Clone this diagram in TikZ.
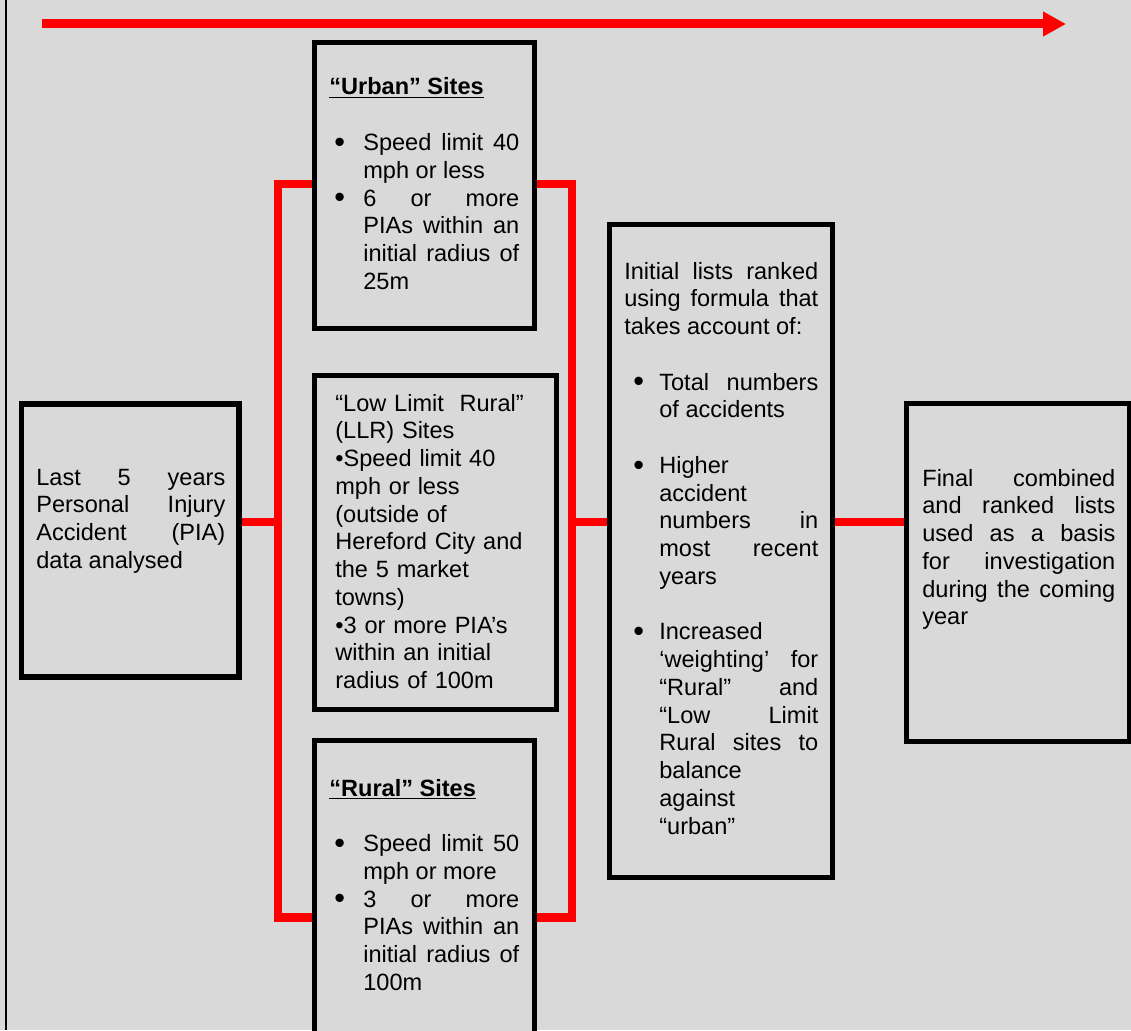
\documentclass[tikz,border=0pt]{standalone}
\usepackage{fontspec}
\usepackage{graphicx}
\setmainfont{Liberation Sans}
\usetikzlibrary{arrows.meta}
\definecolor{panelgrey}{HTML}{D9D9D9}
\definecolor{linkred}{HTML}{FF0000}
\newcommand{\siteitem}[3]{\par\hangindent=#2\hangafter=1\noindent
  \makebox[#2][l]{\hspace{#1}\raisebox{-0.08em}{\scalebox{1.3}{\textbullet}}}#3\par}
\tikzset{
  sitebox/.style={draw=black, line width=0.11cm, fill=panelgrey, inner sep=0pt},
  sitetext/.style={anchor=base west, inner sep=0pt, align=justify,
    font=\fontsize{13.4pt}{15.8pt}\selectfont},
  link/.style={draw=linkred, line width=0.17cm, line join=miter},
}
\begin{document}
\begin{tikzpicture}[x=0.02cm, y=-0.02cm]
  \useasboundingbox (0,0) rectangle (1131,1030);
  \clip (0,0) rectangle (1131,1030);
  \fill[panelgrey] (0,0) rectangle (1131,1030);
  \draw[line width=0.04cm] (6,0) -- (6,1030);
  \coordinate (trendstart) at (42,24);
  \coordinate (trendend) at (1066,24);
  \draw[linkred, line width=0.18cm, -{Triangle[length=0.46cm, width=0.47cm]}] (trendstart) -- (trendend);

  \node[sitebox, minimum width=4.35cm, minimum height=5.46cm] (last) at (130.25,540.5) {};
  \node[sitebox, minimum width=4.4cm, minimum height=5.72cm] (urban) at (424.5,185.5) {};
  \node[sitebox, minimum width=4.84cm, minimum height=6.68cm] (llr) at (435.5,542.5) {};
  \node[sitebox, minimum width=4.4cm, minimum height=6.39cm] (rural) at (424.5,900.25) {};
  \node[sitebox, minimum width=4.46cm, minimum height=13.06cm] (ranking) at (721,551) {};
  \node[sitebox, minimum width=4.46cm, minimum height=6.76cm] (final) at (1018,572.5) {};

  \coordinate (topy) at (0,184);
  \coordinate (midy) at (0,522);
  \coordinate (boty) at (0,917.5);
  \coordinate (leftbus) at (278,522);
  \coordinate (rightbus) at (572,522);
  \draw[link] (urban.west |- topy) -| (leftbus |- boty) -- (rural.west |- boty);
  \draw[link] (urban.east |- topy) -| (rightbus |- boty) -- (rural.east |- boty);
  \draw[link] (last.east |- midy) -- (leftbus);
  \draw[link] (rightbus) -- (ranking.west |- midy);
  \draw[link] (ranking.east |- midy) -- (final.west |- midy);

  \node[sitetext, text width=3.78cm] (lasttext) at (36,485)
    {Last 5 years\linebreak Personal Injury\linebreak Accident (PIA)\linebreak data analysed};
  \node[sitetext, text width=3.8cm] (urbantext) at (329,95)
    {\underline{\textbf{“Urban” Sites}}\par\vspace{\baselineskip}
     \siteitem{0.1cm}{0.68cm}{Speed limit 40\linebreak mph or less}
     \siteitem{0.1cm}{0.68cm}{6 or more\linebreak PIAs within an\linebreak initial radius of\linebreak 25m}};
  \node[sitetext, align=left, text width=4.1cm] (llrtext) at (335,411)
    {“Low Limit\ \ Rural”\\(LLR) Sites\\•Speed limit 40\\mph or less\\(outside of\\Hereford City and\\the 5 market\\towns)\\•3 or more PIA’s\\within an initial\\radius of 100m};
  \node[sitetext, text width=3.8cm] (ruraltext) at (329,796)
    {\underline{\textbf{“Rural” Sites}}\par\vspace{\baselineskip}
     \siteitem{0.1cm}{0.68cm}{Speed limit 50\linebreak mph or more}
     \siteitem{0.1cm}{0.68cm}{3 or more\linebreak PIAs within an\linebreak initial radius of\linebreak 100m}};
  \node[sitetext, text width=3.88cm] (rankingtext) at (624,279)
    {Initial lists ranked\linebreak using formula that\linebreak takes account of:\par\vspace{\baselineskip}
     \siteitem{0.18cm}{0.7cm}{Total numbers\linebreak of accidents}\vspace{\baselineskip}
     \siteitem{0.18cm}{0.7cm}{Higher\linebreak accident\linebreak numbers in\linebreak most recent\linebreak years}\vspace{\baselineskip}
     \siteitem{0.18cm}{0.7cm}{Increased\linebreak ‘weighting’ for\linebreak “Rural” and\linebreak “Low Limit\linebreak Rural sites to\linebreak balance\linebreak against\linebreak “urban”}};
  \node[sitetext, text width=3.86cm] (finaltext) at (922,486)
    {Final combined\linebreak and ranked lists\linebreak used as a basis\linebreak for investigation\linebreak during the coming\linebreak year};
\end{tikzpicture}
\end{document}
